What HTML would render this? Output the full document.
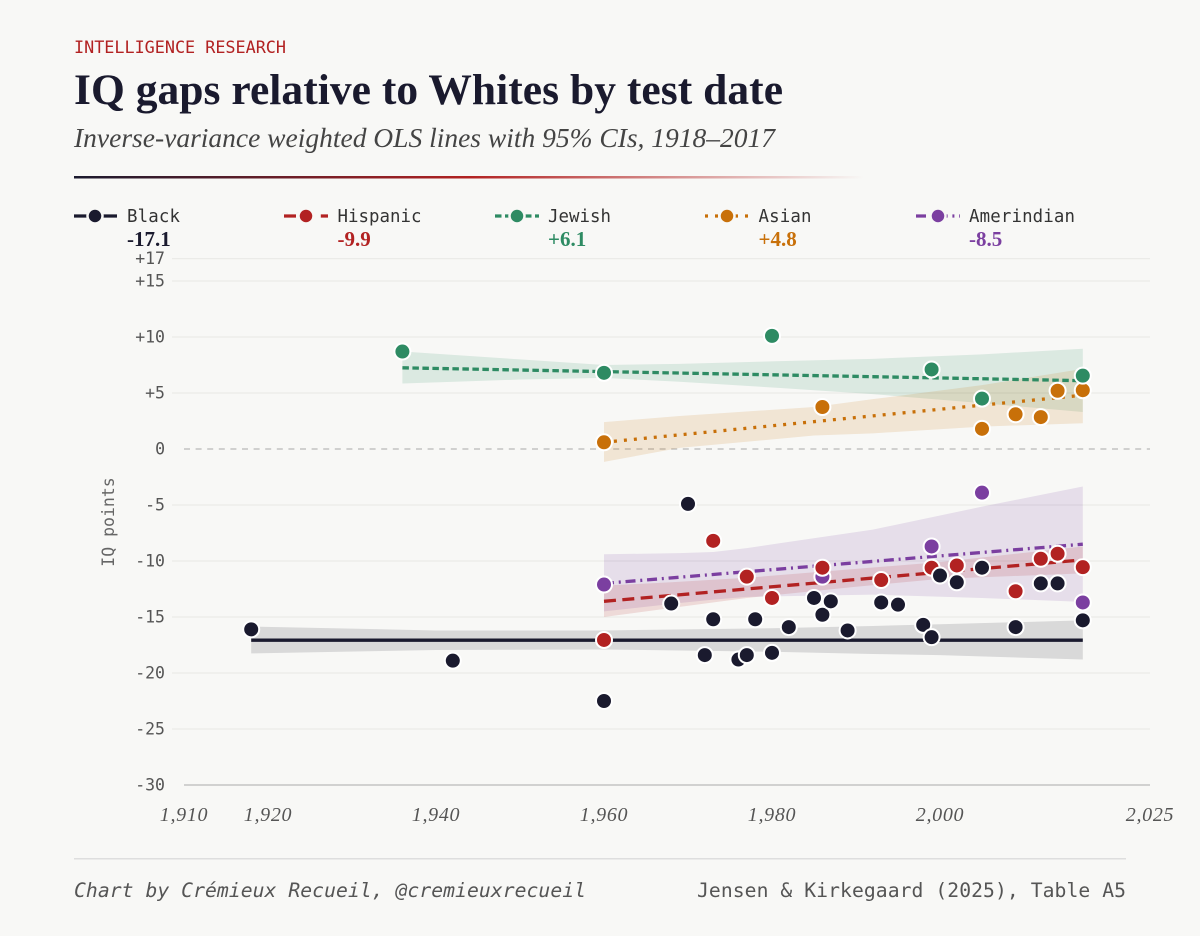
<!DOCTYPE html>
<html lang="en">
<head>
<meta charset="utf-8">
<title>IQ gaps relative to Whites by test date</title>
<style>
html,body{margin:0;padding:0;background:#f8f8f6;}
svg{display:block;}
.mono{font-family:"DejaVu Sans Mono","Liberation Mono",monospace;}
.serif{font-family:"Liberation Serif",serif;}
</style>
</head>
<body>
<svg id="chart" width="1200" height="936" viewBox="0 0 1200 936" xmlns="http://www.w3.org/2000/svg">
<defs>
<linearGradient id="rule-gradient" x1="0" x2="1" y1="0" y2="0">
<stop offset="0" stop-color="#1a1a2e"/>
<stop offset="0.5" stop-color="#b22222"/>
<stop offset="1" stop-color="#b22222" stop-opacity="0"/>
</linearGradient>
</defs>
<rect width="1200" height="936" fill="#f8f8f6"/>
<text class="mono" x="74" y="53" font-size="16.8" fill="#b22222" textLength="212">INTELLIGENCE RESEARCH</text>
<text class="serif" x="74" y="104" font-size="43.5" font-weight="700" fill="#1a1a2e" textLength="709">IQ gaps relative to Whites by test date</text>
<text class="serif" x="74" y="147" font-size="27.5" font-style="italic" fill="#444444" textLength="701">Inverse-variance weighted OLS lines with 95% CIs, 1918–2017</text>
<rect x="74" y="176" width="790" height="2.5" fill="url(#rule-gradient)"/>

<g>
<g>
<line x1="74" x2="117" y1="216" y2="216" stroke="#1a1a2e" stroke-width="3.3"/>
<circle cx="95" cy="216" r="7.5" fill="#1a1a2e" stroke="#f8f8f6" stroke-width="2.5"/>
<text class="mono" x="127" y="222" font-size="17.4" fill="#333333" textLength="53">Black</text>
<text class="serif" x="127" y="246" font-size="21" font-weight="700" fill="#1a1a2e">-17.1</text>
</g>
<g>
<line x1="284" x2="328" y1="216" y2="216" stroke="#b22222" stroke-width="3.3" stroke-dasharray="12 6.4"/>
<circle cx="306" cy="216" r="7.5" fill="#b22222" stroke="#f8f8f6" stroke-width="2.5"/>
<text class="mono" x="337.5" y="222" font-size="17.4" fill="#333333" textLength="84">Hispanic</text>
<text class="serif" x="337.5" y="246" font-size="21" font-weight="700" fill="#b22222">-9.9</text>
</g>
<g>
<line x1="495" x2="539" y1="216" y2="216" stroke="#2e8b63" stroke-width="3.3" stroke-dasharray="6.5 3.5"/>
<circle cx="517" cy="216" r="7.5" fill="#2e8b63" stroke="#f8f8f6" stroke-width="2.5"/>
<text class="mono" x="548" y="222" font-size="17.4" fill="#333333" textLength="63">Jewish</text>
<text class="serif" x="548" y="246" font-size="21" font-weight="700" fill="#2e8b63">+6.1</text>
</g>
<g>
<line x1="705" x2="749" y1="216" y2="216" stroke="#c87009" stroke-width="3.3" stroke-dasharray="3 7"/>
<circle cx="727" cy="216" r="7.5" fill="#c87009" stroke="#f8f8f6" stroke-width="2.5"/>
<text class="mono" x="758.5" y="222" font-size="17.4" fill="#333333" textLength="53">Asian</text>
<text class="serif" x="758.5" y="246" font-size="21" font-weight="700" fill="#c87009">+4.8</text>
</g>
<g>
<line x1="916" x2="960" y1="216" y2="216" stroke="#7b3fa0" stroke-width="3.3" stroke-dasharray="10 4.8 2 4.8"/>
<circle cx="938" cy="216" r="7.5" fill="#7b3fa0" stroke="#f8f8f6" stroke-width="2.5"/>
<text class="mono" x="969" y="222" font-size="17.4" fill="#333333" textLength="106">Amerindian</text>
<text class="serif" x="969" y="246" font-size="21" font-weight="700" fill="#7b3fa0">-8.5</text>
</g>
</g>

<g id="grid"></g>
<g id="y-ticks"></g>
<g id="x-ticks"></g>
<text class="mono" transform="translate(114 522) rotate(-90)" text-anchor="middle" font-size="16.5" fill="#666666">IQ points</text>
<g id="bands"></g>
<g id="lines"></g>
<g id="points"></g>

<rect x="74" y="858" width="1052" height="1.5" fill="#dedede"/>
<text class="mono" x="74" y="897" font-size="19.7" font-style="italic" fill="#555555" textLength="512">Chart by Crémieux Recueil, @cremieuxrecueil</text>
<text class="mono" x="697" y="897" font-size="19.7" fill="#555555" textLength="429">Jensen &amp; Kirkegaard (2025), Table A5</text>
</svg>
<script>
const yTickValues = [17, 15, 10, 5, 0, -5, -10, -15, -20, -25, -30];
const yTickLabels = ["+17", "+15", "+10", "+5", "0", "-5", "-10", "-15", "-20", "-25", "-30"];
const xTickValues = [1910, 1920, 1940, 1960, 1980, 2000, 2025];
const xTickLabels = ["1,910", "1,920", "1,940", "1,960", "1,980", "2,000", "2,025"];

const blackYears = [1918, 1942, 1960, 1968, 1970, 1972, 1973, 1976, 1977, 1978, 1980, 1982, 1985, 1986, 1987, 1989, 1993, 1995, 1998, 1999, 2000, 2002, 2005, 2009, 2012, 2014, 2017];
const blackValues = [-16.1, -18.9, -22.5, -13.8, -4.9, -18.4, -15.2, -18.8, -18.4, -15.2, -18.2, -15.9, -13.3, -14.8, -13.6, -16.2, -13.7, -13.9, -15.7, -16.8, -11.3, -11.9, -10.6, -15.9, -12.0, -12.0, -15.3];
const hispanicYears = [1960, 1973, 1977, 1980, 1986, 1993, 1999, 2002, 2009, 2012, 2014, 2017];
const hispanicValues = [-17.05, -8.2, -11.4, -13.3, -10.6, -11.7, -10.6, -10.4, -12.7, -9.8, -9.35, -10.55];
const jewishYears = [1936, 1960, 1980, 1999, 2005, 2017];
const jewishValues = [8.7, 6.8, 10.1, 7.1, 4.5, 6.55];
const asianYears = [1960, 1986, 2005, 2009, 2012, 2014, 2017];
const asianValues = [0.6, 3.75, 1.8, 3.1, 2.85, 5.2, 5.25];
const amerindianYears = [1960, 1986, 1999, 2005, 2017];
const amerindianValues = [-12.1, -11.4, -8.7, -3.9, -13.7];

const blackLineYears = [1918, 2017];
const blackLineValues = [-17.07, -17.07];
const hispanicLineYears = [1960, 2017];
const hispanicLineValues = [-13.6, -9.9];
const jewishLineYears = [1936, 2017];
const jewishLineValues = [7.25, 6.1];
const asianLineYears = [1960, 2017];
const asianLineValues = [0.6, 4.8];
const amerindianLineYears = [1960, 2017];
const amerindianLineValues = [-12.0, -8.5];

const blackCiYears = [1918, 1940, 1960, 1980, 1992, 2000, 2017];
const blackCiUpper = [-15.85, -16.2, -16.2, -16.0, -15.8, -15.65, -15.3];
const blackCiLower = [-18.25, -17.95, -17.9, -18.1, -18.3, -18.4, -18.8];
const hispanicCiYears = [1960, 1968, 1977, 1990, 2000, 2017];
const hispanicCiUpper = [-12.2, -11.9, -11.5, -10.7, -10.1, -8.7];
const hispanicCiLower = [-15.0, -14.2, -13.3, -12.3, -11.6, -11.1];
const jewishCiYears = [1936, 1950, 1960, 1969, 1981, 1992, 2005, 2017];
const jewishCiUpper = [8.7, 8.0, 7.5, 7.6, 7.85, 8.05, 8.45, 8.95];
const jewishCiLower = [5.85, 6.2, 6.35, 6.0, 5.45, 4.9, 4.1, 3.3];
const asianCiYears = [1960, 1969, 1985, 1992, 2005, 2017];
const asianCiUpper = [2.4, 2.95, 3.75, 4.45, 5.7, 7.15];
const asianCiLower = [-1.15, 0.1, 1.2, 1.4, 2.0, 2.3];
const amerindianCiYears = [1960, 1969, 1973, 1977, 1981, 1992, 2005, 2017];
const amerindianCiUpper = [-9.4, -9.3, -9.2, -8.85, -8.4, -7.2, -5.15, -3.35];
const amerindianCiLower = [-14.5, -13.75, -13.45, -13.2, -13.15, -13.0, -13.3, -13.65];

const NS = 'http://www.w3.org/2000/svg';
const x = function (year) { return 184 + (year - 1910) * (966 / 115); };
const y = function (value) { return 449 - value * 11.2; };

function make(parent, tag, attrs, text) {
  const el = document.createElementNS(NS, tag);
  for (const k in attrs) el.setAttribute(k, attrs[k]);
  if (text !== undefined) el.textContent = text;
  parent.appendChild(el);
  return el;
}

const gridGroup = document.getElementById('grid');
const yTickGroup = document.getElementById('y-ticks');
const xTickGroup = document.getElementById('x-ticks');
const bandGroup = document.getElementById('bands');
const lineGroup = document.getElementById('lines');
const pointGroup = document.getElementById('points');

yTickValues.forEach(function (v, i) {
  const isZero = v === 0;
  const isBase = v === -30;
  const grid = make(gridGroup, 'line', {
    x1: isZero || isBase ? 184 : 172, x2: 1150, y1: y(v), y2: y(v),
    stroke: isZero ? '#b8b8b8' : (isBase ? '#c4c4c4' : '#ebebe8'),
    'stroke-width': isBase ? 1.6 : 1.3,
    'stroke-dasharray': isZero ? '6 5.6' : 'none'
  });
  
  
  const label = make(yTickGroup, 'text', {
    x: 165, y: y(v) + 5.5, 'text-anchor': 'end', 'font-size': 16.5,
    fill: '#555555', 'class': 'mono'
  }, yTickLabels[i]);
  
  
});

xTickValues.forEach(function (v, i) {
  const label = make(xTickGroup, 'text', {
    x: x(v), y: 821, 'text-anchor': 'middle', 'font-size': 20,
    'font-style': 'italic', fill: '#555555', 'class': 'serif', 'letter-spacing': '0.7'
  }, xTickLabels[i]);
  
  
});

function drawBand(years, upper, lower, color) {
  const top = years.map(function (yr, i) { return x(yr) + ',' + y(upper[i]); });
  const bottom = years.map(function (yr, i) { return x(yr) + ',' + y(lower[i]); }).reverse();
  const band = make(bandGroup, 'polygon', { points: top.concat(bottom).join(' '), fill: color, 'fill-opacity': 0.14 });
  
  
}
drawBand(blackCiYears, blackCiUpper, blackCiLower, '#1a1a2e');
drawBand(jewishCiYears, jewishCiUpper, jewishCiLower, '#2e8b63');
drawBand(asianCiYears, asianCiUpper, asianCiLower, '#c87009');
drawBand(amerindianCiYears, amerindianCiUpper, amerindianCiLower, '#7b3fa0');
drawBand(hispanicCiYears, hispanicCiUpper, hispanicCiLower, '#b22222');

function drawLine(years, values, color, dash) {
  const line = make(lineGroup, 'line', {
    x1: x(years[0]), y1: y(values[0]), x2: x(years[1]), y2: y(values[1]),
    stroke: color, 'stroke-width': 3.3, 'stroke-dasharray': dash
  });
  
  
}
drawLine(blackLineYears, blackLineValues, '#1a1a2e', 'none');
drawLine(jewishLineYears, jewishLineValues, '#2e8b63', '6.5 3.5');
drawLine(asianLineYears, asianLineValues, '#c87009', '3 7');
drawLine(amerindianLineYears, amerindianLineValues, '#7b3fa0', '10 4.8 2 4.8');
drawLine(hispanicLineYears, hispanicLineValues, '#b22222', '12 6.4');

const allPoints = [];
function collect(years, values, color) {
  years.forEach(function (yr, i) { allPoints.push({ year: yr, value: values[i], color: color }); });
}
collect(asianYears, asianValues, '#c87009');
collect(jewishYears, jewishValues, '#2e8b63');
collect(amerindianYears, amerindianValues, '#7b3fa0');
collect(hispanicYears, hispanicValues, '#b22222');
collect(blackYears, blackValues, '#1a1a2e');
allPoints.sort(function (a, b) { return a.year - b.year; });
allPoints.forEach(function (p) {
  const dot = make(pointGroup, 'circle', {
    cx: x(p.year), cy: y(p.value), r: 8, fill: p.color, stroke: '#ffffff', 'stroke-width': 2
  });
  
  
});
</script>
</body>
</html>
